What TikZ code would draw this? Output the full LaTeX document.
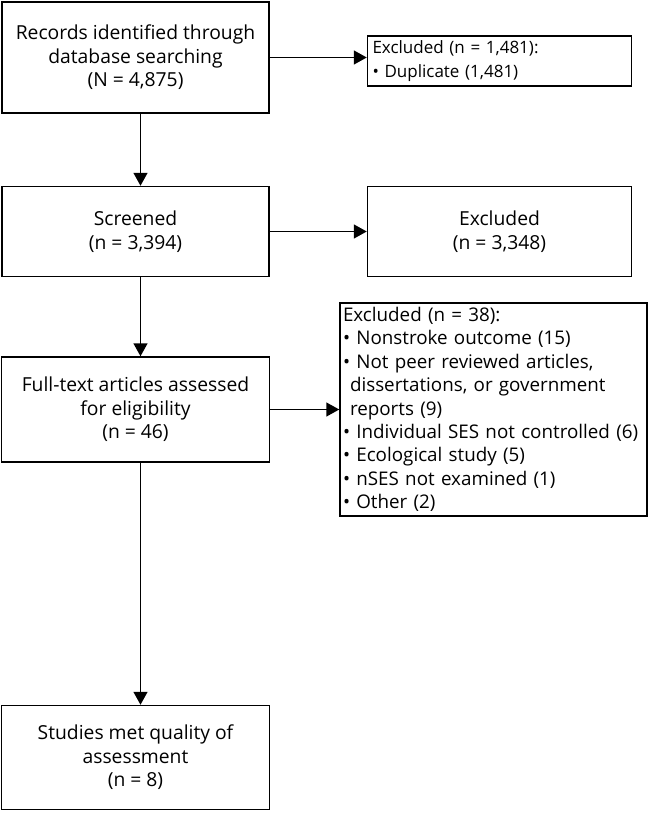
\documentclass[tikz,border=0pt]{standalone}
\usepackage{fontspec}
\setmainfont{Open Sans}
\usetikzlibrary{positioning,arrows.meta}

\begin{document}
\begin{tikzpicture}[x=1pt,y=1pt,
        font=\fontsize{19.3}{23.4}\selectfont,
        box/.style={draw,line width=1.5pt,align=center,inner sep=2pt},
        exbox/.style={draw,line width=1.5pt,align=left,inner xsep=5pt,inner ysep=2pt},
        arr/.style={-{Triangle[length=13pt,width=14pt]},line width=1.5pt}]
        \useasboundingbox (0,0) rectangle (648,-814);

        \node[box,minimum width=267pt,minimum height=111pt] (rec) at (135.5,-57.5) {Records identified through\\database searching\\(N = 4,875)};
        \node[exbox,font=\fontsize{17}{23.4}\selectfont,text width=254pt,minimum height=50pt,right=97pt of rec,yshift=-3.5pt] (exc1) {Excluded (n = 1,481):\\\textbullet\ Duplicate (1,481)};

        \node[box,minimum width=267pt,minimum height=90pt,below=72pt of rec] (scr) {Screened\\(n = 3,394)};
        \node[box,minimum width=264pt,minimum height=90pt,right=97pt of scr] (exc2) {Excluded\\(n = 3,348)};

        \node[box,minimum width=268pt,minimum height=105pt,below=79pt of scr] (full) {Full-text articles assessed\\for eligibility\\(n = 46)};
        \node[exbox,font=\fontsize{18.8}{23.4}\selectfont,inner xsep=3pt,text width=301pt,minimum height=213pt,right=69pt of full] (exc3) {Excluded (n = 38):\\
                \textbullet\ Nonstroke outcome (15)\\
                \textbullet\ Not peer reviewed articles,\\
                \hspace*{7pt}dissertations, or government\\
                \hspace*{7pt}reports (9)\\
                \textbullet\ Individual SES not controlled (6)\\
                \textbullet\ Ecological study (5)\\
                \textbullet\ nSES not examined (1)\\
                \textbullet\ Other (2)};

        \node[box,minimum width=268pt,minimum height=104pt,below=242pt of full] (fin) {Studies met quality of\\assessment\\(n = 8)};

        %down the left
        \draw[arr] ([xshift=5pt]rec.south) -- ([xshift=5pt]scr.north);
        \draw[arr] ([xshift=5pt]scr.south) -- ([xshift=5pt]full.north);
        \draw[arr] ([xshift=5pt]full.south) -- ([xshift=5pt]fin.north);
        %exclusions
        \draw[arr] (rec.east) -- (rec.east -| exc1.west);
        \draw[arr] (scr) -- (exc2);
        \draw[arr] (full) -- (exc3);
\end{tikzpicture}
\end{document}
